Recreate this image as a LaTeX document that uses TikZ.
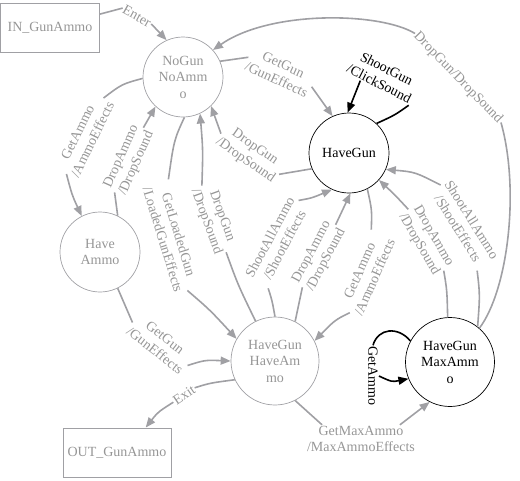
\documentclass[tikz,border=0pt]{standalone}
\usepackage{fontspec}
\setmainfont{Liberation Serif}
\usetikzlibrary{arrows.meta,calc}
\definecolor{eg}{RGB}{160,160,164}
\definecolor{tg}{RGB}{150,150,150}
\begin{document}
\begin{tikzpicture}[x=1pt,y=-1pt,
  every node/.style={font=\fontsize{14}{16.5}\selectfont},
  st/.style={circle,draw=eg,line width=0.7pt,minimum size=80pt,inner sep=0pt,align=center,text=tg},
  stb/.style={st,draw=black,text=black},
  term/.style={rectangle,draw=eg,line width=0.9pt,text=tg,inner sep=0pt},
  lab/.style={text=tg,align=center,inner sep=1pt},
  labb/.style={lab,text=black},
  ed/.style={draw=eg,line width=1.6pt},
  ar/.style={ed,-{Triangle[length=10pt,width=8pt]}},
  edb/.style={draw=black,line width=1.6pt},
  arb/.style={edb,-{Triangle[length=10pt,width=8pt]}},
]
\useasboundingbox (0,0) rectangle (520,480);
% states
\node[term,minimum width=99pt,minimum height=49pt] (IN) at (50,27.5) {IN\_GunAmmo};
\node[term,minimum width=108pt,minimum height=49pt] (OUT) at (117,452.5) {OUT\_GunAmmo};
\node[st] (NG) at (183,77) {NoGun\\NoAmm\\o};
\node[stb] (HG) at (349,153) {HaveGun};
\node[st] (HA) at (100,252) {Have\\Ammo};
\node[st,minimum size=88pt] (HH) at (275,361) {HaveGun\\HaveAm\\mo};
\node[stb,minimum size=89pt] (HM) at (450,362) {HaveGun\\MaxAmm\\o};
% labels
\node[lab,rotate=-29] (L1) at (137,16) {Enter};
\node[lab,rotate=-46] (L2) at (458,78) {DropGun/DropSound};
\node[lab,rotate=-25] (L3) at (280,72) {GetGun\\/GunEffects};
\node[labb,rotate=-27] (L4) at (383,76) {ShootGun\\/ClickSound};
\node[lab,rotate=-35] (L5) at (250,154) {DropGun\\/DropSound};
\node[lab,rotate=64] (L6) at (85,136) {GetAmmo\\/AmmoEffects};
\node[lab,rotate=66] (L7) at (129,160) {DropAmmo\\/DropSound};
\node[lab,rotate=-73] (L8) at (171,237) {GetLoadedGun\\/LoadedGunEffects};
\node[lab,rotate=-70] (L9) at (214,219) {DropGun\\/DropSound};
\node[lab,rotate=-38] (L10) at (160,344) {GetGun\\/GunEffects};
\node[lab,rotate=62] (L11) at (277,241) {ShootAllAmmo\\/ShootEffects};
\node[lab,rotate=62] (L12) at (319,256) {DropAmmo\\/DropSound};
\node[lab,rotate=66] (L13) at (367,274) {GetAmmo\\/AmmoEffects};
\node[lab,rotate=-60] (L14) at (426,240) {DropAmmo\\/DropSound};
\node[lab,rotate=-58] (L15) at (465,224) {ShootAllAmmo\\/ShootEffects};
\node[labb,rotate=-90] (L16) at (373,376) {GetAmmo};
\node[lab] (L17) at (361,439) {GetMaxAmmo\\/MaxAmmoEffects};
\node[lab,rotate=34] (L18) at (184,395) {Exit};
% edges
\draw[ed] (IN.15) .. controls (112,11) .. (L1.west);
\draw[ar] (L1.east) -- (NG.114);
\draw[ed] (HM.49) .. controls (508,290) and (520,190) .. (L2.east);
\draw[ar] (L2.west) .. controls (380,12) and (270,10) .. (NG.42);
\draw[ed] (NG.23) -- (L3.west);
\draw[ar] (L3.east) -- (HG.114);
\draw[edb] (HG.47) .. controls (395,115) .. (L4.south east);
\draw[arb] ($(L4.south)!0.5!(L4.south west)$) -- (HG.92);
\draw[ed] (HG.203) -- (L5.east);
\draw[ar] (L5.west) -- (NG.-46);
\draw[ed] (NG.182) .. controls (122,84) .. (L6.east);
\draw[ar] (L6.west) .. controls (72,195) .. (HA.117);
\draw[ed] (HA.64) -- (L7.west);
\draw[ar] (L7.east) -- (NG.227);
\draw[ed] (NG.-88) .. controls (174,140) .. (L8.north west);
\draw[ar] (L8.east) .. controls (210,310) .. (HH.150);
\draw[ed] (HH.116) .. controls (238,285) .. (L9.east);
\draw[ar] (L9.west) .. controls (203,150) .. (NG.-65);
\draw[ed] (HA.-64) .. controls (126,305) .. (L10.west);
\draw[ar] (L10.east) .. controls (205,360) .. (HH.180);
\draw[ed] (HH.90) .. controls (272,300) .. (L11.south west);
\draw[ar] (L11.east) .. controls (312,198) .. (HG.245);
\draw[ed] (HH.63) -- (L12.west);
\draw[ar] (L12.east) -- (HG.-88);
\draw[ed] (HG.-63) .. controls (372,210) .. (L13.north east);
\draw[ar] (L13.west) .. controls (335,320) .. (HH.27);
\draw[ed] (HM.93) .. controls (447,290) .. (L14.east);
\draw[ar] (L14.west) .. controls (395,195) .. (HG.-42);
\draw[ed] (HM.52) .. controls (480,295) .. (L15.south east);
\draw[ar] (L15.west) .. controls (415,172) .. (HG.-24);
\draw[edb] (HM.152) .. controls (398,326) and (378,328) .. (L16.west);
\draw[arb] (L16.north) .. controls (392,382) .. (HM.202);
\draw[ed] (HH.-63) -- (L17.160);
\draw[ar] (L17.20) -- (HM.243);
\draw[ed] (HH.205) .. controls (210,383) .. (L18.east);
\draw[ar] (L18.west) .. controls (158,412) .. (OUT.41);
\end{tikzpicture}
\end{document}
